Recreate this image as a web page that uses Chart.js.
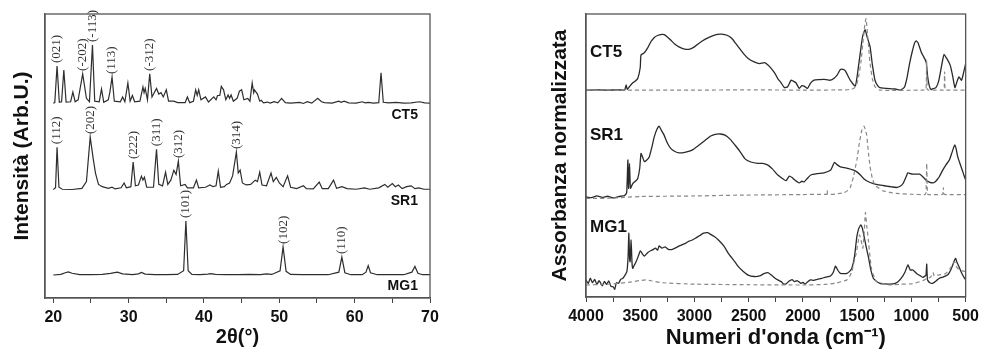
<!DOCTYPE html>
<html>
<head>
<meta charset="utf-8">
<script src="https://cdn.jsdelivr.net/npm/chart.js@4"></script>
<style>
  body { margin: 0; background: #fff; overflow: hidden; }
  .panel { position: absolute; top: 0; height: 349px; }
  #left { left: 0; width: 490px; }
  #right { left: 490px; width: 494px; }
</style>
</head>
<body>
<div class="panel" id="left"><canvas id="xrd"></canvas></div>
<div class="panel" id="right"><canvas id="ftir"></canvas></div>
<script>
// XRD patterns: [2theta, intensity above the trace baseline]
const ct5Xrd = [[20,0.3],[20.2,0.5],[20.5,13.4],[20.8,0.6],[21.1,0.8],[21.4,12],[21.7,0.7],[22.3,0.8],[22.6,4.2],[22.9,0.8],[23.3,1.5],[23.9,10.6],[24.4,2],[24.8,0.8],[25.2,20.8],[25.5,1],[26.1,0.8],[26.4,5.3],[26.7,0.6],[27.3,1.5],[27.5,4],[27.8,9.5],[28.1,1],[28.9,0.8],[29.2,2.5],[29.5,0.8],[29.9,7.4],[30.2,1],[30.5,3],[30.8,0.8],[31.5,1],[31.9,6],[32.05,4],[32.2,5.5],[32.5,1.5],[32.8,10.6],[33.1,2.5],[33.7,5.5],[34,3.5],[34.3,4],[34.6,2.5],[35,5],[35.3,1],[36,1],[36.5,0.5],[37.5,0.5],[37.8,2.5],[38.1,0.5],[38.6,1],[38.9,5],[39.1,3],[39.3,5],[39.6,1.5],[40.2,2.5],[40.6,0.7],[41.3,2.5],[41.6,1.5],[41.8,3],[42.1,3],[42.3,6.2],[42.6,5],[42.9,1.5],[43.2,3.2],[43.4,2],[43.6,3.2],[43.9,1],[44.4,2],[44.7,4.5],[45,5],[45.3,1.5],[45.8,2],[46.1,1],[46.4,7.4],[46.6,4],[46.7,5],[47.1,3.5],[47.4,1],[47.6,1.3],[47.9,0.4],[48.4,0.7],[48.8,0.3],[49.3,0.8],[49.8,0.4],[50.3,2],[50.8,0.5],[51.5,0.3],[52.7,0.6],[53.2,0.2],[53.7,0.8],[54.3,0.3],[55.1,2],[55.6,0.8],[56,0.5],[57,0.3],[57.9,1],[58.2,0.6],[58.6,1],[59.2,0.4],[60.2,0.3],[61,0.8],[61.4,0.4],[61.8,0.6],[62.5,0.3],[63.2,0.5],[63.5,11],[63.8,0.6],[64.5,0.4],[65.5,0.6],[66.5,0.3],[67.5,0.4],[68.6,0.8],[69.3,0.4],[70,0.3]];
const sr1Xrd = [[20,0.2],[20.3,0.8],[20.5,15.1],[20.75,1],[21.2,0.3],[22.5,0.2],[23.8,0.6],[24.4,3],[24.9,18.7],[25.3,11],[25.6,6],[26,2],[26.5,1.2],[27.3,0.6],[27.8,1],[28.2,0.4],[29,0.8],[29.4,2.5],[29.7,0.8],[30.3,1.2],[30.6,9.9],[30.9,1.5],[31.3,1.8],[31.7,4.9],[31.9,3.5],[32.1,4.5],[32.4,1],[33.3,1],[33.7,14.4],[34,2],[34.5,1.5],[34.9,6.3],[35.2,2],[35.6,3.5],[36,7],[36.3,5.5],[36.6,10.2],[36.9,1.5],[37.5,2],[37.8,0.8],[38.6,0.8],[39,3.5],[39.3,0.8],[40.2,1],[40.8,1.8],[41.2,1.2],[41.6,1.5],[41.9,6.7],[42.2,1],[42.7,1.2],[43,2],[43.4,2.5],[43.8,5],[44.3,13.4],[44.55,6],[44.8,7],[45.1,2.5],[45.6,1.8],[46.2,2],[46.8,3.5],[47.1,3],[47.4,6.3],[47.7,1.8],[48.3,1.5],[48.9,6],[49.2,3],[49.6,4.5],[50,2.5],[50.5,1.2],[51.1,5],[51.5,1],[52.3,0.5],[53.2,1.5],[53.6,0.5],[54.5,0.4],[55.3,2.8],[55.7,0.5],[56.5,0.5],[57.2,3.5],[57.6,0.6],[58.3,1.2],[59,0.5],[60.2,0.3],[61.3,0.8],[62,0.3],[63.2,0.8],[64,2],[64.4,1],[65,2.3],[65.4,1.2],[65.8,1.8],[66.3,0.5],[66.9,1.2],[67.5,1.5],[68,0.5],[68.5,0.8],[69.2,0.3],[70,0.3]];
const mg1Xrd = [[20,0],[21,0.2],[21.6,0.8],[22,1.1],[22.5,0.6],[23.5,0.1],[25,0.1],[26.5,0.2],[27.6,0.6],[28.5,1],[29.2,0.4],[30.5,0.1],[31.3,0.4],[31.7,0.9],[32.2,0.3],[33.5,0.1],[35,0.1],[36.5,0.2],[37.3,1.5],[37.6,19],[37.9,1.5],[38.4,0.2],[39.5,0.1],[40.5,0.3],[40.9,0.5],[41.5,0.2],[43,0.1],[44.5,0.1],[46,0.2],[47.5,0.1],[48.3,0.4],[49,0.2],[50.1,1.5],[50.5,9.9],[50.9,1.3],[51.5,0.2],[53,0.1],[55,0.1],[56.5,0.1],[57.9,1],[58.3,6.3],[58.7,0.8],[59.5,0.1],[61,0.1],[61.5,1],[61.8,3.3],[62.1,0.8],[63,0.1],[65,0.1],[66.5,0.1],[67.6,1],[68,3],[68.4,0.6],[69,0.1],[70,0.1]];

// Miller indices and the 2theta of the peak they mark
const ct5Hkl = [['(021)',20.5],['(-202)',23.9],['(-113)',25.2],['(113)',27.8],['(-312)',32.8]];
const sr1Hkl = [['(112)',20.5],['(202)',24.9],['(222)',30.6],['(311)',33.7],['(312)',36.6],['(314)',44.3]];
const mg1Hkl = [['(101)',37.6],['(102)',50.5],['(110)',58.3]];

const xrdTicks = [20,25,30,35,40,45,50,55,60,65,70];
const xrdOffsets = [68.3, 38, 8.1];

// FTIR spectra: [wavenumber, absorbance above baseline]; solid = sample, dashed = reference
const ct5Ir = [[4000,0],[3900,0.1],[3800,0],[3700,0.1],[3644,0],[3630,1.8],[3620,0.3],[3600,1.2],[3569,2.6],[3545,3.2],[3523,4.1],[3500,8],[3493,12.4],[3462,13.2],[3430,15],[3402,17.1],[3370,18.6],[3341,19.3],[3300,19.7],[3280,19.6],[3250,18.8],[3219,17.7],[3180,16.2],[3143,15.3],[3100,14.6],[3052,14.4],[3000,15.3],[2961,16.5],[2900,18],[2840,19.1],[2790,19.7],[2749,19.8],[2700,19.4],[2657,18.3],[2620,16.5],[2596,15.3],[2550,13],[2505,11.2],[2450,10],[2399,9.4],[2353,9.7],[2320,8.8],[2293,7.7],[2260,6],[2232,4.1],[2200,2.5],[2171,0.9],[2141,1.2],[2110,3.5],[2090,3.2],[2065,2.6],[2034,0.6],[2010,1.6],[1989,1.4],[1958,0.6],[1930,2.5],[1898,3.5],[1850,3.7],[1807,3.8],[1746,3.5],[1710,4.3],[1685,5.3],[1655,7.3],[1630,7.3],[1609,6.8],[1564,3.5],[1518,1.4],[1500,5],[1472,13],[1450,19],[1427,21.4],[1410,19],[1381,15.3],[1360,9],[1336,3.5],[1310,1.5],[1290,0.9],[1199,0.5],[1150,0.4],[1108,0],[1080,0.5],[1062,1.2],[1040,4.5],[1017,9.4],[990,14],[970,16.7],[956,17.4],[940,16.8],[910,13.5],[890,12],[871,10.6],[862,9.5],[850,4.7],[835,1.5],[819,0.2],[800,0.5],[774,0.9],[750,3],[729,7.1],[710,11],[698,12.6],[680,11.5],[668,10.8],[650,9.5],[638,8.2],[620,5],[599,0.9],[580,3],[562,4.7],[538,3.5],[520,6],[500,9.4]];
const ct5Ref = [[4000,0],[3000,0],[2500,0.1],[2000,0],[1600,0.1],[1560,0.3],[1533,0.6],[1505,2],[1487,4.7],[1465,10],[1448,16.5],[1430,23],[1418,25.3],[1405,20],[1390,13],[1381,9.4],[1360,4],[1336,1.2],[1290,0],[900,0],[866,0.2],[860,10.6],[854,0.2],[841,0],[705,0],[698,0.2],[694,6.5],[690,0.2],[684,0],[500,0]];
const sr1Ir = [[4000,0],[3950,-0.3],[3900,0.3],[3850,-0.2],[3800,0.2],[3750,-0.4],[3700,0.1],[3660,0.3],[3644,0.5],[3625,1.5],[3614,13],[3608,3],[3599,11.8],[3590,3],[3569,4.7],[3545,5.5],[3523,6.5],[3505,10],[3493,15.3],[3478,14],[3462,12.4],[3440,13],[3417,14.1],[3390,18],[3371,21.2],[3345,24],[3326,25],[3305,23.5],[3280,21.8],[3250,19],[3219,17.1],[3180,16],[3143,15.5],[3080,15.8],[3022,16.5],[2960,18.2],[2900,20],[2850,21.5],[2809,22.1],[2760,22.2],[2718,21.8],[2670,20.3],[2627,18.3],[2580,16],[2536,13.5],[2480,12.3],[2414,11.8],[2370,11.8],[2323,11.2],[2280,9.8],[2232,7.7],[2190,6.5],[2156,5.7],[2126,7.3],[2100,6.8],[2080,6.1],[2034,4.9],[2010,5.5],[1989,5.3],[1960,6.5],[1928,7.7],[1870,8.2],[1807,8.5],[1746,9.4],[1725,11],[1709,12.2],[1680,11.2],[1655,10.6],[1620,10.3],[1579,10],[1540,9.5],[1503,8.8],[1470,7.7],[1442,6.5],[1400,5.4],[1351,4.7],[1300,4.2],[1229,3.8],[1180,3.5],[1138,3.3],[1100,3.8],[1077,4.7],[1050,7],[1032,8.5],[1010,8.2],[986,8],[950,8],[925,8],[900,7.3],[880,6.5],[865,5.9],[840,5.3],[804,4.9],[780,5.3],[760,6.2],[743,7.1],[710,9.5],[683,11.2],[650,13],[629,15.3],[610,17.5],[599,18.3],[588,17],[578,15],[568,13.5],[550,11.5],[531,9.4],[515,7.5],[500,5.9]];
const sr1Ref = [[4000,-0.6],[3800,-0.5],[3644,-0.2],[3500,0.1],[3000,0.3],[2581,0.6],[2000,0.8],[1807,0.9],[1780,0.9],[1776,2.3],[1772,0.9],[1700,1],[1624,1.4],[1590,2.2],[1564,3.3],[1535,7],[1503,13],[1480,19],[1457,23.6],[1436,25],[1425,23.8],[1412,21.8],[1400,17],[1381,10.6],[1360,6.5],[1336,4.1],[1300,3],[1260,2.1],[1200,1.6],[1138,1.2],[1000,0.9],[875,0.8],[865,1.5],[859,11.8],[853,1.5],[847,0.8],[720,0.8],[710,1],[705,3.3],[700,1],[690,0.8],[500,0.8]];
const mg1Ir = [[4000,1.8],[3980,0.5],[3960,2.4],[3940,0.8],[3920,2],[3900,0.2],[3880,1.5],[3872,1.2],[3850,-0.3],[3830,1.3],[3810,0.2],[3790,1.5],[3770,-0.5],[3751,-0.6],[3735,-1.5],[3720,0.8],[3700,0.6],[3680,2],[3660,2.4],[3640,3.5],[3623,4.7],[3612,10],[3605,18.3],[3598,9],[3593,8.2],[3584,15.9],[3576,8],[3569,5.9],[3555,7],[3538,8.2],[3515,10.5],[3499,12.1],[3480,11],[3462,10.2],[3430,11.5],[3400,12.2],[3386,12.4],[3360,13],[3340,12.3],[3326,13.8],[3300,13],[3270,13.5],[3240,12.6],[3204,12.6],[3170,13.2],[3140,13.8],[3110,14.3],[3083,14.7],[3050,15.5],[3020,15.9],[2991,16.5],[2950,17.5],[2916,18.3],[2880,18.5],[2855,18],[2820,17.2],[2779,15.9],[2730,13.8],[2688,11.2],[2640,8.8],[2596,6.5],[2550,4.8],[2505,3.5],[2450,3],[2399,3.2],[2360,4],[2323,4.4],[2290,3.5],[2260,2.5],[2232,1.8],[2200,1.2],[2180,0.4],[2156,0.4],[2130,1.3],[2100,1.9],[2080,1.2],[2050,1.5],[2020,0.6],[2000,0.9],[1980,0.3],[1958,1.1],[1930,1.8],[1900,1.6],[1867,2],[1830,2.3],[1790,2.8],[1746,3.2],[1720,4.5],[1700,6.7],[1680,5.3],[1655,4.1],[1620,4],[1594,4.1],[1570,4.8],[1549,5.9],[1525,10],[1503,17.1],[1485,20],[1467,21.2],[1452,20],[1436,17.1],[1420,14],[1397,10],[1375,5.5],[1351,2.4],[1320,1.2],[1290,0.6],[1260,0.4],[1169,0.4],[1130,1],[1093,2.4],[1060,4.5],[1032,7.1],[1010,5.3],[986,5.3],[950,4],[920,3.3],[895,2.7],[870,3.3],[865,3.5],[859,7.4],[853,2],[847,1.5],[830,0.8],[804,0.6],[770,1.5],[743,2.4],[710,2.8],[683,3.2],[660,3.8],[638,5.3],[615,7.5],[600,9],[592,9.4],[580,8],[562,6.5],[540,4.5],[520,3],[500,1.8]];
const mg1Ref = [[4000,0],[3751,0.4],[3600,1],[3500,1.6],[3447,1.8],[3400,1.5],[3300,0.8],[3000,0.3],[2500,0.1],[2000,0],[1800,0.2],[1700,0.6],[1594,1.8],[1570,3],[1549,4.7],[1530,8],[1509,11.2],[1490,15.5],[1479,17.7],[1465,16],[1448,13],[1436,18],[1424,25.6],[1412,21],[1397,15.9],[1382,10],[1366,5.3],[1340,2.5],[1321,1.2],[1200,0],[1100,0.3],[1000,0.4],[895,1.5],[860,2.3],[825,2.7],[801,4.4],[790,3.2],[770,3.4],[743,3.6],[700,3.8],[683,4.1],[640,6],[612,7.8],[599,8.2],[585,6.5],[562,5.5],[530,5],[500,4.7]];

const samples = ['CT5', 'SR1', 'MG1'];
const ftirOffsets = [73.1, 35.4, 4.24];
const ftirNameY = [86.6, 57.2, 24.7];

const sans = '"Liberation Sans", Arial, sans-serif';
const toXY = (pts, off) => pts.map(([x, y]) => ({ x, y: y + off }));

// frame round the plot area (the axes only draw left and bottom)
const framePlugin = {
  id: 'frame',
  afterDraw(chart) {
    const { ctx, chartArea: a } = chart;
    ctx.save();
    ctx.strokeStyle = '#555';
    ctx.lineWidth = 1.3;
    ctx.strokeRect(a.left, a.top, a.right - a.left, a.bottom - a.top);
    ctx.restore();
  }
};

const xrdText = {
  id: 'xrdText',
  afterDatasetsDraw(chart) {
    const { ctx, scales: { x, y } } = chart;
    ctx.save();
    ctx.fillStyle = '#111';
    ctx.font = 'bold 14px ' + sans;
    ctx.textAlign = 'right';
    ctx.textBaseline = 'middle';
    samples.forEach((s, i) => {
      ctx.fillText(s, x.getPixelForValue(68.4), y.getPixelForValue(xrdOffsets[i]) + 11);
    });
    ctx.font = '13px "Liberation Serif", "Times New Roman", serif';
    ctx.fillStyle = '#333';
    ctx.textAlign = 'left';
    [[ct5Hkl, ct5Xrd], [sr1Hkl, sr1Xrd], [mg1Hkl, mg1Xrd]].forEach(([hkl, pts], i) => {
      hkl.forEach(([txt, tt]) => {
        const peak = pts.find(p => p[0] === tt);
        ctx.save();
        ctx.translate(x.getPixelForValue(tt), y.getPixelForValue(peak[1] + xrdOffsets[i]) - 3);
        ctx.rotate(-Math.PI / 2);
        ctx.fillText(txt, 0, 0);
        ctx.restore();
      });
    });
    ctx.restore();
  }
};

const ftirText = {
  id: 'ftirText',
  afterDatasetsDraw(chart) {
    const { ctx, chartArea, scales: { y } } = chart;
    ctx.save();
    ctx.fillStyle = '#111';
    ctx.font = 'bold 17px ' + sans;
    ctx.textAlign = 'left';
    ctx.textBaseline = 'middle';
    samples.forEach((s, i) => ctx.fillText(s, chartArea.left + 4, y.getPixelForValue(ftirNameY[i])));
    ctx.restore();
  }
};

const traceXrd = (pts, off) => ({
  data: toXY(pts, off), borderColor: '#2e2e2e', borderWidth: 1.2, pointRadius: 0, tension: 0
});
const traceIr = (pts, off, dashed) => ({
  data: toXY(pts, off),
  borderColor: dashed ? '#888' : '#2a2a2a',
  borderWidth: dashed ? 1.2 : 1.3,
  borderDash: dashed ? [4, 3] : [],
  pointRadius: 0,
  tension: 0.15
});

const baseOpts = {
  responsive: true,
  maintainAspectRatio: false,
  animation: false,
  plugins: { legend: { display: false }, tooltip: { enabled: false } },
  events: []
};

new Chart(document.getElementById('xrd'), {
  type: 'line',
  data: {
    datasets: [
      traceXrd(ct5Xrd, xrdOffsets[0]),
      traceXrd(sr1Xrd, xrdOffsets[1]),
      traceXrd(mg1Xrd, xrdOffsets[2])
    ]
  },
  options: {
    ...baseOpts,
    layout: { padding: { top: 14, right: 60, left: 0, bottom: 0 } },
    scales: {
      x: {
        type: 'linear', min: 18.9, max: 70,
        afterBuildTicks: s => { s.ticks = xrdTicks.map(v => ({ value: v })); },
        afterFit: s => { s.height = 51; },
        grid: { drawOnChartArea: false, drawTicks: true, tickLength: 5, color: '#444' },
        border: { color: '#555', width: 1.3 },
        ticks: {
          autoSkip: false, maxRotation: 0, padding: 5, color: '#111',
          font: { size: 16, weight: 'bold', family: sans },
          callback: v => (v % 10 === 0 ? v : '')
        },
        title: {
          display: true, text: '2θ(°)', color: '#111',
          font: { size: 20, weight: 'bold', family: sans, lineHeight: 1 },
          padding: { top: 0, bottom: 2 }
        }
      },
      y: {
        min: 0, max: 100,
        afterFit: s => { s.width = 45; },
        grid: { display: false },
        border: { color: '#555', width: 1.3 },
        ticks: { display: false },
        title: {
          display: true, text: 'Intensità (Arb.U.)', color: '#111',
          font: { size: 21, weight: 'bold', family: sans, lineHeight: 1 },
          padding: { top: 11.5, bottom: 0 }
        }
      }
    }
  },
  plugins: [framePlugin, xrdText]
});

new Chart(document.getElementById('ftir'), {
  type: 'line',
  data: {
    datasets: [
      traceIr(ct5Ref, ftirOffsets[0], true),
      traceIr(sr1Ref, ftirOffsets[1], true),
      traceIr(mg1Ref, ftirOffsets[2], true),
      traceIr(ct5Ir, ftirOffsets[0], false),
      traceIr(sr1Ir, ftirOffsets[1], false),
      traceIr(mg1Ir, ftirOffsets[2], false)
    ]
  },
  options: {
    ...baseOpts,
    layout: { padding: { top: 14, right: 14, left: 0, bottom: 0 } },
    scales: {
      x: {
        type: 'linear', min: 500, max: 4000, reverse: true,
        afterFit: s => { s.height = 52; },
        grid: { drawOnChartArea: false, drawTicks: true, tickLength: 5, color: '#444' },
        border: { color: '#555', width: 1.3 },
        ticks: {
          stepSize: 250, autoSkip: false, maxRotation: 0, padding: 5, color: '#111',
          font: { size: 16, weight: 'bold', family: sans },
          callback: v => (v % 500 === 0 ? v : '')
        },
        title: {
          display: true, text: "Numeri d'onda (cm⁻¹)", color: '#111',
          font: { size: 22, weight: 'bold', family: sans, lineHeight: 1 },
          padding: { top: 0, bottom: 0 }
        }
      },
      y: {
        min: 0, max: 100,
        afterFit: s => { s.width = 96; },
        grid: { display: false },
        border: { color: '#555', width: 1.3 },
        ticks: { display: false },
        title: {
          display: true, text: 'Assorbanza normalizzata', color: '#111',
          font: { size: 21, weight: 'bold', family: sans, lineHeight: 1 },
          padding: { top: 59.5, bottom: 0 }
        }
      }
    }
  },
  plugins: [framePlugin, ftirText]
});
</script>
</body>
</html>
